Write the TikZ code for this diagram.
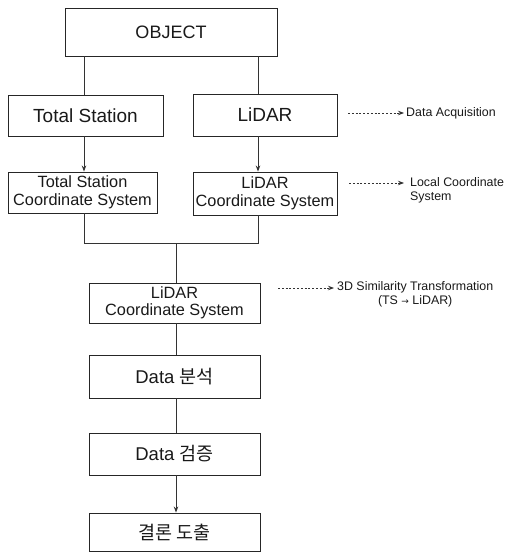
\documentclass[tikz,border=0pt]{standalone}
\usepackage{fontspec}
\setmainfont{Liberation Sans}
\newfontfamily\kr{Noto Sans CJK KR}
\newfontfamily\symb{DejaVu Sans}
\usetikzlibrary{arrows.meta}
\begin{document}
\begin{tikzpicture}[x=1pt,y=-1pt,
  box/.style={draw=black!85, line width=0.9pt, inner sep=0pt, align=center, text=black!90},
  link/.style={draw=black!80, line width=0.9pt},
  arr/.style={link, -{Stealth[length=6pt,width=4.5pt]}},
  dasharrow/.style={draw=black!80, line width=0.8pt, dash pattern=on 2pt off 1.8pt, -{Stealth[length=6pt,width=4.5pt]}},
  note/.style={inner sep=0pt, font=\fontsize{12.4}{14.5}\selectfont, text=black!90}]
\useasboundingbox (0,0) rectangle (510,554);

% main flow boxes
\node[box, minimum width=212pt, minimum height=48pt, font=\fontsize{18}{20}\selectfont] (obj) at (171,32) {OBJECT};
\node[box, minimum width=155pt, minimum height=41pt, font=\fontsize{19}{21}\selectfont] (ts) at (85.5,115.5) {Total Station};
\node[box, minimum width=144pt, minimum height=42pt, font=\fontsize{19}{21}\selectfont] (lidar) at (265,115) {LiDAR};
\node[box, minimum width=149pt, minimum height=41pt, font=\fontsize{16.3}{17.5}\selectfont] (tscs) at (82.5,192.5) {Total Station\\Coordinate System};
\node[box, minimum width=144pt, minimum height=43pt, font=\fontsize{16.3}{17.5}\selectfont] (lcs) at (265,193.5) {LiDAR\\Coordinate System};
\node[box, minimum width=171pt, minimum height=40pt, font=\fontsize{16.3}{17.5}\selectfont] (lcs2) at (174.5,303) {LiDAR\\Coordinate System};
\node[box, minimum width=171pt, minimum height=43pt, font=\fontsize{18.5}{20}\selectfont] (ana) at (174.5,376.5) {Data {\kr 분석}};
\node[box, minimum width=171pt, minimum height=42pt, font=\fontsize{18.5}{20}\selectfont] (ver) at (174.5,454) {Data {\kr 검증}};
\node[box, minimum width=171pt, minimum height=38pt, font=\fontsize{18.5}{20}\selectfont] (con) at (174.5,532) {\kr 결론 도출};

% column positions and the merge point
\coordinate (colL) at (84,0);
\coordinate (colR) at (258,0);
\coordinate (colM) at (176,0);
\coordinate (jL) at (84,243);
\coordinate (jR) at (258,243);
\coordinate (jM) at (176,243);

\draw[link] (obj.south -| colL) -- (ts.north -| colL);
\draw[link] (obj.south -| colR) -- (lidar.north -| colR);
\draw[arr] (ts.south -| colL) -- (tscs.north -| colL);
\draw[arr] (lidar.south -| colR) -- (lcs.north -| colR);
\draw[link] (tscs.south -| colL) -- (jL) -- (jR) -- (lcs.south -| colR);
\draw[link] (jM) -- (lcs2.north -| jM);
\draw[link] (lcs2.south -| colM) -- (ana.north -| colM);
\draw[link] (ana.south -| colM) -- (ver.north -| colM);
\draw[arr] (ver.south -| colM) -- (con.north -| colM);

% side annotations
\node[note, anchor=west] (acq) at (406,113) {Data Acquisition};
\coordinate (acqS) at (348,113);
\draw[dasharrow] (acqS) -- ([xshift=-2pt]acqS -| acq.west);

\node[note, anchor=west, align=left] (loc) at (410,190.5) {Local Coordinate\\System};
\coordinate (locS) at (349,183);
\draw[dasharrow] (locS) -- ([xshift=-6pt]locS -| loc.west);

\node[note, anchor=west, align=center] (sim) at (337,294.5) {3D Similarity Transformation\\(TS {\symb\fontsize{9}{10}\selectfont →} LiDAR)};
\coordinate (simS) at (278,288);
\draw[dasharrow] (simS) -- ([xshift=-3pt]simS -| sim.west);
\end{tikzpicture}
\end{document}
